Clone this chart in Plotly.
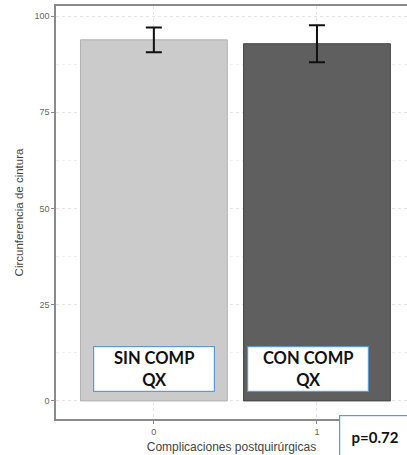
import plotly.graph_objects as go

categories = [0, 1]
tick_labels = ["0", "1"]
means = [93.8, 92.8]
errors = [3.2, 4.8]
bar_colors = ["#cbcbcb", "#5f5f5f"]
box_labels = ["SIN COMP<br>QX", "CON COMP<br>QX"]
p_label = "p=0.72"

fig = go.Figure()
fig.add_trace(go.Bar(
    x=categories, y=means, width=0.9,
    marker=dict(color=bar_colors, line=dict(color=["#b0b0b0", "#444444"], width=1)),
    error_y=dict(type="data", array=errors, visible=True, color="#111111", thickness=2, width=8),
    showlegend=False,
))

grid = "#e4e4e4"
fig.update_layout(
    width=407, height=455,
    margin=dict(l=56, r=0, t=6, b=36),
    paper_bgcolor="white", plot_bgcolor="white",
    font=dict(family="Liberation Sans, Arial", color="#555555"),
    xaxis=dict(
        range=[-0.6, 1.552], tickvals=categories, ticktext=tick_labels,
        showline=True, linecolor="#8a8a8a", linewidth=1.5, mirror=True,
        ticks="outside", ticklen=3, tickcolor="#8a8a8a",
        showgrid=True, gridcolor=grid, griddash="dot", gridwidth=1,
        zeroline=False, tickfont=dict(size=9, color="#666666"),
        title=dict(text="Complicaciones postquirúrgicas", font=dict(size=12, color="#444444"), standoff=7),
    ),
    yaxis=dict(
        range=[-4.7, 102.6], tickvals=[0, 25, 50, 75, 100],
        showline=True, linecolor="#8a8a8a", linewidth=1.5,
        ticks="outside", ticklen=3, tickcolor="#8a8a8a",
        showgrid=True, gridcolor=grid, griddash="dot", gridwidth=1,
        minor=dict(tickvals=[12.5, 37.5, 62.5, 87.5], showgrid=True, gridcolor="#ededed", griddash="dot"),
        zeroline=False, tickfont=dict(size=9, color="#666666"),
        title=dict(text="Circunferencia de cintura", font=dict(size=11.5, color="#444444"), standoff=8),
    ),
)

box_x = [0, 0.945]
for bx, lab in zip(box_x, box_labels):
    fig.add_annotation(
        x=bx, y=8.4, xref="x", yref="y", text=lab, showarrow=False,
        font=dict(family="Lato, Open Sans", size=16.5, color="#111111", weight="bold"),
        bgcolor="white", bordercolor="#5b9bd5", borderwidth=1.2,
        width=118, height=42, borderpad=1, align="center",
    )

fig.add_annotation(
    x=(339 - 56) / 351, y=(419 - 415) / 413, xref="paper", yref="paper",
    xanchor="left", yanchor="top", text=p_label, showarrow=False,
    font=dict(family="Lato, Open Sans", size=15, color="#111111", weight="bold"),
    bgcolor="white", bordercolor="#5b9bd5", borderwidth=1.2,
    width=70, height=42, borderpad=0, align="center",
)

fig.write_html("out.html")
